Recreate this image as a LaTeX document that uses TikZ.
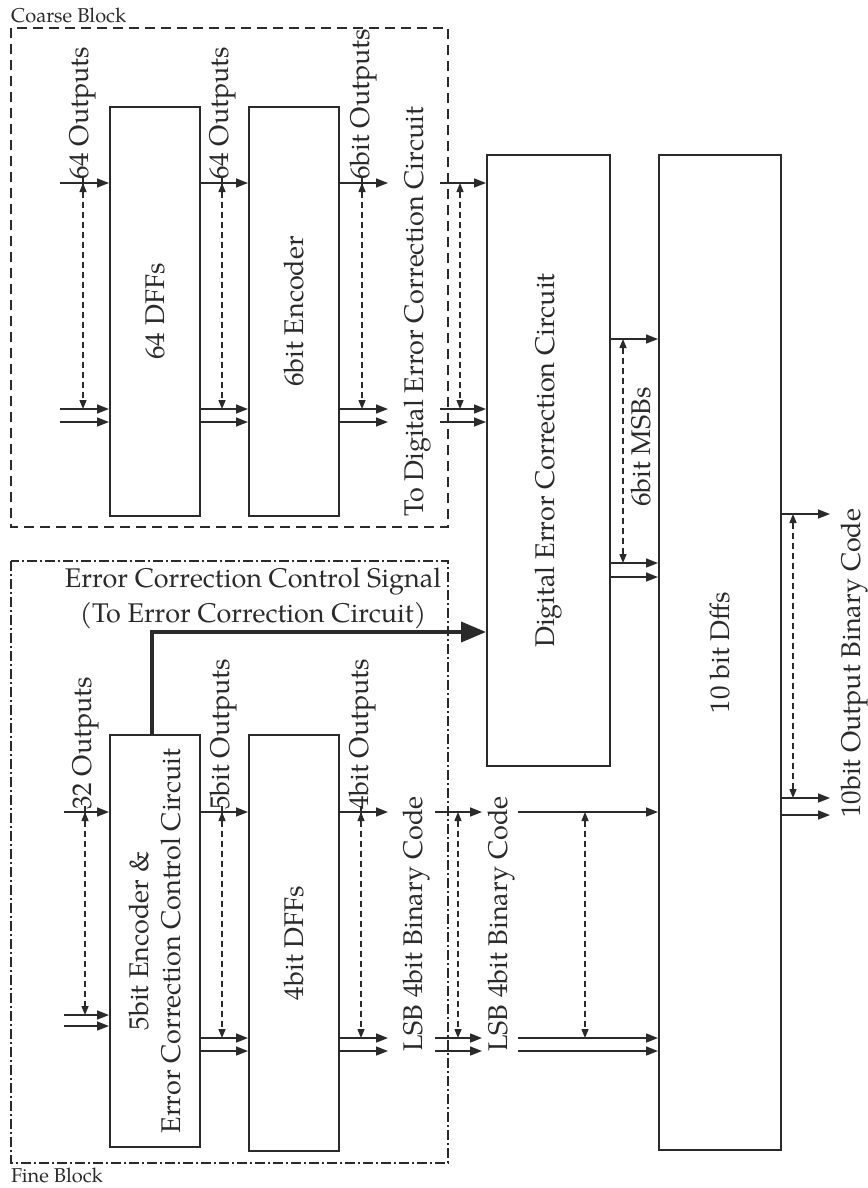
\documentclass[tikz,border=0pt]{standalone}
\usepackage{fontspec}
\setmainfont{TeX Gyre Pagella}
\usetikzlibrary{arrows.meta}
\definecolor{ink}{HTML}{2A2A2A}
\begin{document}
\begin{tikzpicture}[x=1pt,y=-1pt,
  box/.style={draw=ink, line width=2pt, inner sep=0pt},
  sig/.style={draw=ink, line width=1.6pt, -{Triangle[length=12pt,width=9pt]}},
  bus/.style={draw=ink, line width=1.4pt, dash pattern=on 6pt off 4pt,
    {Triangle[length=9pt,width=7pt]}-{Triangle[length=9pt,width=7pt]}},
  tick/.style={draw=ink, line width=1.3pt},
  lbl/.style={text=ink, font=\fontsize{27}{32}\selectfont, inner sep=0pt},
  vlbl/.style={lbl, rotate=90, anchor=base west},
  ttl/.style={text=ink, font=\fontsize{20}{24}\selectfont, inner sep=0pt, anchor=base west}]
\useasboundingbox (0,0) rectangle (867,1188);

% block borders
\draw[ink, line width=1.6pt, dash pattern=on 10pt off 6pt] (11,28) rectangle (448,527);
\draw[ink, line width=1.6pt, dash pattern=on 10pt off 3pt on 2pt off 3pt] (11,561) rectangle (448,1163);
\node[ttl] (coarse) at (11,23) {Coarse Block};
\node[ttl] (fine) at (11,1182) {Fine Block};

% boxes
\node[box, minimum width=90pt, minimum height=409pt] (dff64) at (155,311.5) {};
\node[box, minimum width=90pt, minimum height=409pt] (enc6) at (294,311.5) {};
\node[box, minimum width=123pt, minimum height=611pt] (dec) at (548.5,460.5) {};
\node[box, minimum width=122pt, minimum height=995pt] (d10) at (720,652.5) {};
\node[box, minimum width=90pt, minimum height=412pt] (enc5) at (155,941) {};
\node[box, minimum width=90pt, minimum height=416pt] (dff4) at (294,943) {};

\node[lbl, rotate=90] at (dff64.center) {64 DFFs};
\node[lbl, rotate=90] at (enc6.center) {6bit Encoder};
\node[lbl, rotate=90] at (dec.center) {Digital Error Correction Circuit};
\node[lbl, rotate=90] at (d10.center) {10 bit Dffs};
\node[lbl, rotate=90, align=center] at (enc5.center) {5bit Encoder \&\\Error Correction Control Circuit};
\node[lbl, rotate=90] at (dff4.center) {4bit DFFs};

% rows
\coordinate (c1) at (0,183);  \coordinate (c2) at (0,409);  \coordinate (c3) at (0,422);
\coordinate (m1) at (0,339);  \coordinate (m2) at (0,563);  \coordinate (m3) at (0,577);
\coordinate (o1) at (0,514);  \coordinate (o2) at (0,798);  \coordinate (o3) at (0,815);
\coordinate (f1) at (0,812);  \coordinate (f2) at (0,1015); \coordinate (f3) at (0,1026);
\coordinate (g2) at (0,1038); \coordinate (g3) at (0,1051);
\coordinate (ctl) at (0,632);

% free ends
\coordinate (inC) at (60,0);  \coordinate (outC) at (388,0); \coordinate (xC) at (440,0);
\coordinate (outO) at (830,0);
\coordinate (inF) at (64,0);  \coordinate (outF) at (388,0);
\coordinate (xF1) at (435,0); \coordinate (xF2) at (482,0); \coordinate (lsbF) at (518,0);

% coarse signal arrows
\foreach \r in {c1,c2,c3}{
  \draw[sig] (inC |- \r) -- (dff64.west |- \r);
  \draw[sig] (dff64.east |- \r) -- (enc6.west |- \r);
  \draw[sig] (enc6.east |- \r) -- (outC |- \r);
  \draw[sig] (xC |- \r) -- (dec.west |- \r);
}
\foreach \r in {m1,m2,m3}{ \draw[sig] (dec.east |- \r) -- (d10.west |- \r); }
\foreach \r in {o1,o2,o3}{ \draw[sig] (d10.east |- \r) -- (outO |- \r); }

% fine signal arrows
\foreach \r in {f1,f2,f3}{ \draw[sig] (inF |- \r) -- (enc5.west |- \r); }
\foreach \r in {f1,g2,g3}{
  \draw[sig] (enc5.east |- \r) -- (dff4.west |- \r);
  \draw[sig] (dff4.east |- \r) -- (outF |- \r);
  \draw[sig] (xF1 |- \r) -- (xF2 |- \r);
  \draw[sig] (lsbF |- \r) -- (d10.west |- \r);
}

% control signal
\draw[ink, line width=3.8pt, -{Triangle[length=25pt,width=20pt]}]
  ([xshift=-3pt]enc5.north) |- (dec.west |- ctl);

% bus-width dashed arrows
\coordinate (b1) at (83,0);  \coordinate (b2) at (222,0); \coordinate (b3) at (362,0);
\coordinate (b4) at (460,0); \coordinate (b5) at (623,0); \coordinate (b6) at (793,0);
\coordinate (b7) at (85,0);  \coordinate (b8) at (222,0); \coordinate (b9) at (361,0);
\coordinate (b10) at (458,0); \coordinate (b11) at (585,0);
\foreach \b in {b1,b2,b3,b4}{ \draw[bus] (\b |- c1) -- (\b |- c2); }
\draw[bus] (b5 |- m1) -- (b5 |- m2);
\draw[bus] (b6 |- o1) -- (b6 |- o2);
\draw[bus] (b7 |- f1) -- (b7 |- f2);
\foreach \b in {b8,b9,b10,b11}{ \draw[bus] (\b |- f1) -- (\b |- g2); }
\foreach \b in {b1,b2,b3}{ \draw[tick] ([yshift=6pt]\b |- c1) -- ([yshift=-3pt]\b |- c1); }
\foreach \b in {b7,b8,b9}{ \draw[tick] ([yshift=6pt]\b |- f1) -- ([yshift=-3pt]\b |- f1); }

% vertical labels
\node[vlbl] at (88,180) {64 Outputs};
\node[vlbl] at (228,180) {64 Outputs};
\node[vlbl] at (369,180) {6bit Outputs};
\node[vlbl] at (423,517) {To Digital Error Correction Circuit};
\node[vlbl] at (91,810) {32 Outputs};
\node[vlbl] at (229,810) {5bit Outputs};
\node[vlbl] at (368,810) {4bit Outputs};
\node[vlbl] at (422,1052) {LSB 4bit Binary Code};
\node[vlbl] at (507,1052) {LSB 4bit Binary Code};
\node[vlbl] at (650,507) {6bit MSBs};
\node[vlbl] at (860,818) {10bit Output Binary Code};

% control signal label
\node[lbl, anchor=base] (ecs) at (253,587) {Error Correction Control Signal};
\node[lbl, anchor=base] (ecs2) at (253,622) {(To Error Correction Circuit)};
\end{tikzpicture}
\end{document}
